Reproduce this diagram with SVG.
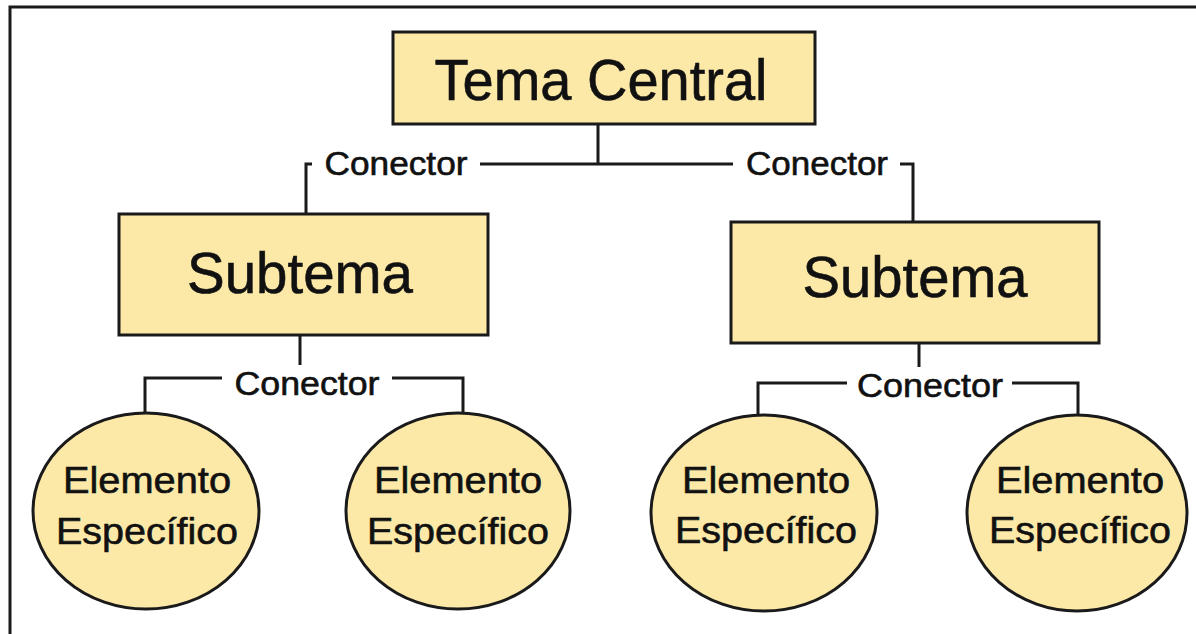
<svg xmlns="http://www.w3.org/2000/svg" width="1196" height="634" viewBox="0 0 1196 634">
<style>
.box{fill:#fce9a8;stroke:#1a1a1a;stroke-width:3}
.el{fill:#fce9a8;stroke:#1a1a1a;stroke-width:3}
.ln{fill:none;stroke:#1a1a1a;stroke-width:3}
text{font-family:"Liberation Sans",Arial,sans-serif;fill:#111;stroke:#111;stroke-width:0.6;text-anchor:middle}
.big{font-size:58px}
.con{font-size:33px}
.elt{font-size:37px}
</style>
<rect width="1196" height="634" fill="#ffffff"/>
<path d="M10,634 V7 H1196" fill="none" stroke="#1a1a1a" stroke-width="3"/>
<g id="connectors">
<path class="ln" d="M598,124 V164 M480,164 H733"/>
<path class="ln" d="M312,164 H306 V214"/>
<path class="ln" d="M900,164 H913 V222"/>
<path class="ln" d="M300,335 V365"/>
<path class="ln" d="M222,378 H145 V413 M392,378 H463 V413"/>
<path class="ln" d="M919,343 V367"/>
<path class="ln" d="M847,383 H758 V415 M1012,383 H1078 V415"/>
<text class="con" x="396" y="175" textLength="143" lengthAdjust="spacingAndGlyphs">Conector</text>
<text class="con" x="817" y="175" textLength="142" lengthAdjust="spacingAndGlyphs">Conector</text>
<text class="con" x="307" y="395" textLength="145" lengthAdjust="spacingAndGlyphs">Conector</text>
<text class="con" x="930" y="397" textLength="146" lengthAdjust="spacingAndGlyphs">Conector</text>
</g>
<g id="tema-central">
<rect class="box" x="393" y="32" width="422" height="92"/>
<text class="big" x="601" y="100" textLength="333" lengthAdjust="spacingAndGlyphs">Tema Central</text>
</g>
<g id="subtema-1">
<rect class="box" x="119" y="214" width="369" height="121"/>
<text class="big" x="300" y="293" textLength="226" lengthAdjust="spacingAndGlyphs">Subtema</text>
</g>
<g id="subtema-2">
<rect class="box" x="731" y="222" width="368" height="121"/>
<text class="big" x="915" y="297" textLength="225" lengthAdjust="spacingAndGlyphs">Subtema</text>
</g>
<g id="elemento-1">
<ellipse class="el" cx="146" cy="511" rx="113" ry="98"/>
<text class="elt" x="147" y="493" textLength="168" lengthAdjust="spacingAndGlyphs">Elemento</text>
<text class="elt" x="147" y="544" textLength="182" lengthAdjust="spacingAndGlyphs">Específico</text>
</g>
<g id="elemento-2">
<ellipse class="el" cx="458" cy="511" rx="112" ry="98"/>
<text class="elt" x="458" y="493" textLength="168" lengthAdjust="spacingAndGlyphs">Elemento</text>
<text class="elt" x="458" y="544" textLength="182" lengthAdjust="spacingAndGlyphs">Específico</text>
</g>
<g id="elemento-3">
<ellipse class="el" cx="764" cy="513" rx="113" ry="98"/>
<text class="elt" x="766" y="493" textLength="168" lengthAdjust="spacingAndGlyphs">Elemento</text>
<text class="elt" x="766" y="543" textLength="182" lengthAdjust="spacingAndGlyphs">Específico</text>
</g>
<g id="elemento-4">
<ellipse class="el" cx="1077" cy="513" rx="110" ry="98"/>
<text class="elt" x="1080" y="493" textLength="168" lengthAdjust="spacingAndGlyphs">Elemento</text>
<text class="elt" x="1080" y="543" textLength="182" lengthAdjust="spacingAndGlyphs">Específico</text>
</g>
</svg>
